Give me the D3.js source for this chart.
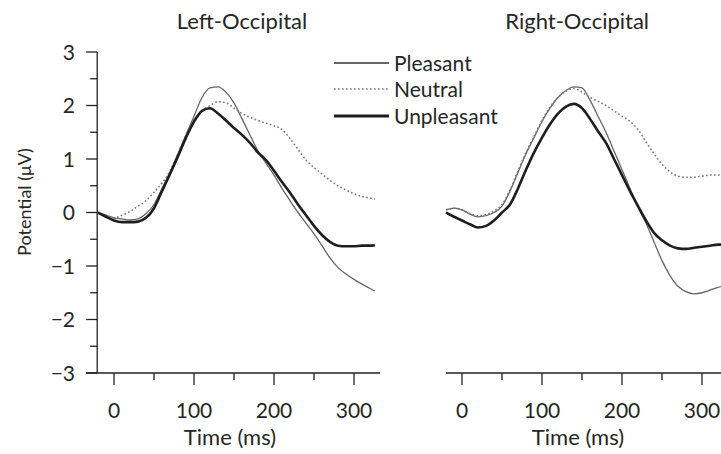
<!DOCTYPE html>
<html>
<head>
<meta charset="utf-8">
<script src="https://cdn.jsdelivr.net/npm/d3@7"></script>
<style>
  html, body { margin: 0; padding: 0; background: #fff; }
  svg { display: block; }
  text { font-family: Lato, "Open Sans", sans-serif; fill: #262626; }
</style>
</head>
<body>
<svg id="chart" width="721" height="454"></svg>
<script>
// ---- data (time in ms, potential in µV) ----
const time = [-20,-10,0,10,20,30,40,50,60,70,80,90,100,110,120,130,140,150,160,170,180,190,200,210,220,230,240,250,260,270,280,290,300,310,320,326];

const leftPleasant   = [0,-0.05,-0.1,-0.12,-0.14,-0.12,-0.02,0.15,0.45,0.75,1.1,1.45,1.8,2.15,2.33,2.35,2.25,2.05,1.75,1.45,1.15,0.92,0.7,0.45,0.22,0,-0.2,-0.4,-0.62,-0.85,-1.03,-1.15,-1.25,-1.34,-1.42,-1.47];
const leftNeutral    = [0,-0.05,-0.1,-0.05,0.02,0.12,0.22,0.38,0.55,0.78,1.1,1.45,1.72,1.9,2.0,2.07,2.05,1.95,1.85,1.78,1.72,1.67,1.62,1.55,1.38,1.18,0.98,0.84,0.72,0.6,0.5,0.42,0.35,0.3,0.27,0.25];
const leftUnpleasant = [0,-0.08,-0.15,-0.18,-0.18,-0.17,-0.1,0.08,0.4,0.72,1.05,1.4,1.7,1.9,1.95,1.85,1.72,1.58,1.45,1.3,1.12,0.98,0.78,0.57,0.37,0.15,-0.05,-0.25,-0.42,-0.55,-0.62,-0.63,-0.63,-0.62,-0.62,-0.61];

const rightPleasant   = [0.05,0.08,0.05,-0.03,-0.08,-0.06,0,0.12,0.4,0.75,1.1,1.4,1.7,1.95,2.15,2.28,2.35,2.33,2.1,1.8,1.5,1.15,0.8,0.45,0.1,-0.2,-0.55,-0.9,-1.18,-1.38,-1.48,-1.52,-1.5,-1.45,-1.4,-1.38];
const rightNeutral    = [0.05,0.08,0.05,-0.02,-0.06,-0.04,0.03,0.15,0.42,0.78,1.12,1.42,1.72,1.97,2.15,2.27,2.32,2.25,2.15,2.08,2.0,1.9,1.8,1.7,1.55,1.32,1.1,0.9,0.76,0.68,0.66,0.66,0.68,0.7,0.7,0.7];
const rightUnpleasant = [0,-0.08,-0.15,-0.22,-0.28,-0.25,-0.15,0,0.15,0.45,0.8,1.12,1.4,1.65,1.85,1.98,2.03,1.95,1.75,1.52,1.3,1.0,0.7,0.4,0.12,-0.15,-0.38,-0.52,-0.62,-0.67,-0.68,-0.66,-0.64,-0.62,-0.6,-0.6];

const panelTitles = ["Left-Occipital", "Right-Occipital"];
const seriesNames = ["Pleasant", "Neutral", "Unpleasant"];
const xTicks = [0, 50, 100, 150, 200, 250, 300];
const xTickLabels = ["0", "", "100", "", "200", "", "300"];
const yTicks = [-3,-2.5,-2,-1.5,-1,-0.5,0,0.5,1,1.5,2,2.5,3];
const yTickLabels = ["\u22123","","\u22122","","\u22121","","0","","1","","2","","3"];
const xLabel = "Time (ms)";
const yLabel = "Potential (\u03bcV)";

// ---- styles ----
const styles = {
  Pleasant:   { stroke: "#666", width: 1.3, dash: null,  legendWidth: 2 },
  Neutral:    { stroke: "#777", width: 1.6, dash: "1.6,2.4", legendWidth: 1.6 },
  Unpleasant: { stroke: "#1e1e1e", width: 2.6, dash: null,  legendWidth: 3 }
};

const svg = d3.select("#chart");
const y = d3.scaleLinear().domain([-3, 3]).range([373, 52]);

const panels = [
  { title: panelTitles[0], titleAt: 160, x0: 114, axisStart: 86, axisEnd: 380, yAxis: true,
    data: [leftPleasant, leftNeutral, leftUnpleasant] },
  { title: panelTitles[1], titleAt: 144, x0: 462, axisStart: 446, axisEnd: 721, yAxis: false,
    data: [rightPleasant, rightNeutral, rightUnpleasant] }
];

panels.forEach(p => {
  const x = d3.scaleLinear().domain([0, 300]).range([p.x0, p.x0 + 240]);
  const g = svg.append("g");

  // x axis line
  g.append("line").attr("x1", p.axisStart).attr("x2", p.axisEnd)
    .attr("y1", y(-3)).attr("y2", y(-3))
    .attr("stroke", "#222").attr("stroke-width", 1.3);
  xTicks.forEach((t, i) => {
    const major = xTickLabels[i] !== "";
    g.append("line").attr("x1", x(t)).attr("x2", x(t))
      .attr("y1", y(-3)).attr("y2", y(-3) + (major ? 12 : 7))
      .attr("stroke", "#222").attr("stroke-width", 1.3);
    if (major) {
      g.append("text").attr("x", x(t)).attr("y", 418)
        .attr("text-anchor", "middle").attr("font-size", 21)
        .text(xTickLabels[i]);
    }
  });
  g.append("text").attr("x", x(145)).attr("y", 445)
    .attr("text-anchor", "middle").attr("font-size", 22).text(xLabel);

  // title
  g.append("text").attr("x", x(p.titleAt)).attr("y", 29)
    .attr("text-anchor", "middle").attr("font-size", 22).text(p.title);

  if (p.yAxis) {
    const ax = x(-21);
    g.append("line").attr("x1", ax).attr("x2", ax)
      .attr("y1", y(3)).attr("y2", y(-3))
      .attr("stroke", "#222").attr("stroke-width", 1.3);
    yTicks.forEach((v, i) => {
      const major = yTickLabels[i] !== "";
      g.append("line").attr("x1", ax - (major ? 11 : 7)).attr("x2", ax)
        .attr("y1", y(v)).attr("y2", y(v))
        .attr("stroke", "#222").attr("stroke-width", 1.3);
      if (major) {
        g.append("text").attr("x", 75).attr("y", y(v))
          .attr("dy", "0.36em")
          .attr("text-anchor", "end").attr("font-size", 21)
          .text(yTickLabels[i]);
      }
    });
    g.append("text")
      .attr("transform", `translate(31, 202) rotate(-90)`)
      .attr("text-anchor", "middle").attr("font-size", 18).text(yLabel);
  }

  // curves
  const line = d3.line()
    .x((d, i) => x(time[i]))
    .y(d => y(d))
    .curve(d3.curveMonotoneX);
  p.data.forEach((vals, si) => {
    const st = styles[seriesNames[si]];
    g.append("path").datum(vals).attr("d", line)
      .attr("fill", "none").attr("stroke", st.stroke)
      .attr("stroke-width", st.width)
      .attr("stroke-dasharray", st.dash)
      .attr("stroke-linejoin", "round");
  });
});

// legend
const legendY = [63, 89, 116];
seriesNames.forEach((name, i) => {
  const st = styles[name];
  svg.append("line").attr("x1", 334).attr("x2", 389)
    .attr("y1", legendY[i]).attr("y2", legendY[i])
    .attr("stroke", st.stroke).attr("stroke-width", st.legendWidth)
    .attr("stroke-dasharray", st.dash);
  svg.append("text").attr("x", 394).attr("y", legendY[i])
    .attr("dy", "0.36em").attr("font-size", 21).text(name);
});
</script>
</body>
</html>
